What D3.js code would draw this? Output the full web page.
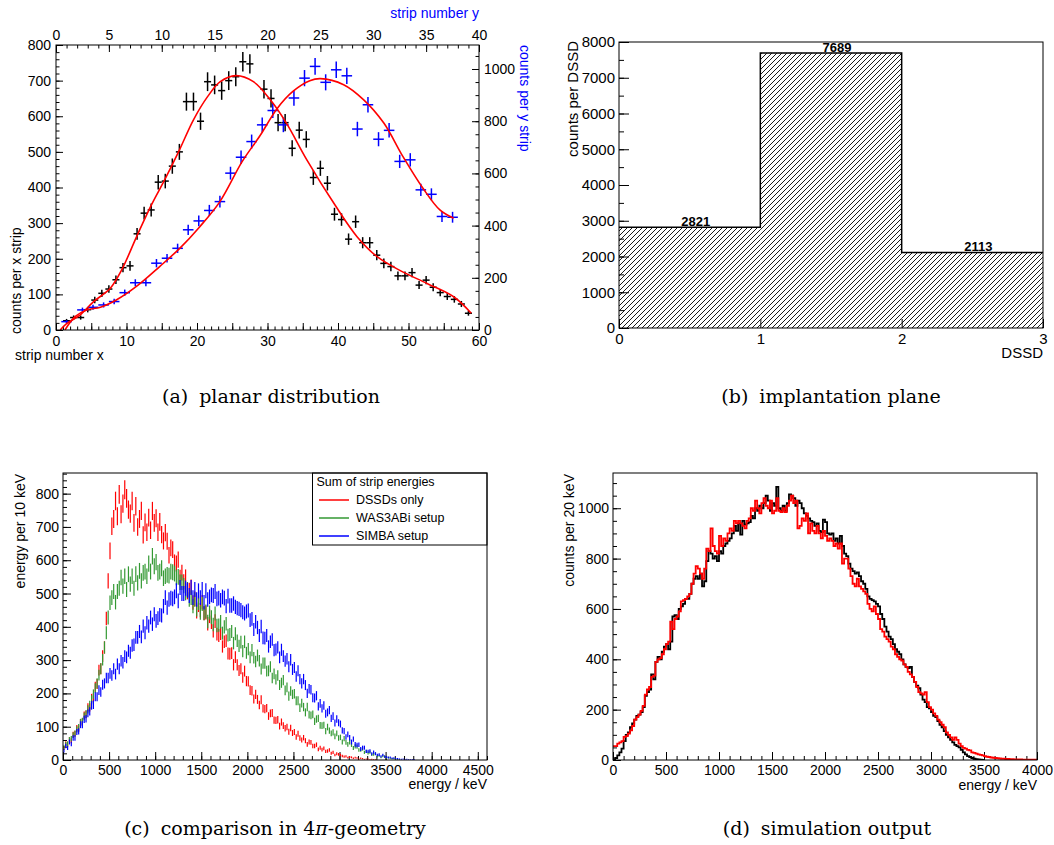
<!DOCTYPE html>
<html lang="en">
<head>
<meta charset="utf-8">
<title>DSSD simulation figures</title>
<script src="https://cdn.jsdelivr.net/npm/d3@7"></script>
<style>
  body { margin: 0; background: #fff; }
  .cap { font-family: "DejaVu Serif", serif; font-size: 19px; }
</style>
</head>
<body>
<svg id="fig" width="1054" height="845"></svg>
<script>
// ---------- (a) planar distribution ----------
var xStrips = d3.range(1.5, 59, 1);            // x strip centres 1.5 .. 58.5
var xCounts = [26,35,35,57,84,103,115,141,175,180,270,328,337,415,418,460,500,641,641,586,
               697,688,672,700,711,753,747,null,676,650,582,582,510,561,535,428,454,412,325,310,
               255,304,245,245,210,187,178,152,152,161,126,140,120,105,94,86,73,47];
var yStrips = [1.0].concat(d3.range(2.5, 38, 1)); // y strip centres
var yCounts = [32,77,87,96,109,143,181,181,256,275,313,384,418,458,492,601,662,722,786,841,
               786,889,965,1010,949,997,974,770,863,731,765,646,652,537,520,435,432];
// fit curves (strip, counts)
var xFit = [[0.6,0],[1.5,18],[3.4,42],[5.3,79],[7.7,117],[9.3,168],[11.5,265],[13.5,350],[15.5,425],
            [17.5,505],[19.5,590],[21.5,655],[23.3,697],[25.5,714],[28,697],[30.4,646],[32.7,580],
            [35.6,477],[39.6,350],[42.7,262],[45.6,205],[48.9,166],[52.7,130],[56.5,92],[58.9,47]];
var yFit = [[0.85,0],[1.8,51],[2.9,77],[4.2,87],[5.7,115],[7.7,170],[9.8,243],[11.7,313],[13.6,396],
            [15.5,492],[17.6,645],[19.3,745],[20.9,848],[22.4,914],[24,955],[25,963],[27.2,940],
            [29.1,882],[31,793],[32.8,665],[34.7,543],[36.3,460],[37.6,428]];
var aBottomLabels = [0,10,20,30,40,50,60];
var aTopLabels = [0,5,10,15,20,25,30,35,40];
var aLeftLabels = [0,100,200,300,400,500,600,700,800];
var aRightLabels = [0,200,400,600,800,1000];

// ---------- (b) implantation plane ----------
var dssdBins = [0, 1, 2];
var dssdCounts = [2821, 7689, 2113];
var bBottomLabels = [0,1,2,3];
var bLeftLabels = [0,1000,2000,3000,4000,5000,6000,7000,8000];

// ---------- (c) comparison in 4pi geometry (energy per 10 keV, sampled every 20 keV from 10 keV) ----------
var cNames = ["DSSDs only", "WAS3ABi setup", "SIMBA setup"];
var cColors = ["#ff0000", "#339933", "#0000ff"];
var cDssd = [36,49,46,61,58,76,79,95,94,112,114,134,137,158,158,185,188,220,228,270,274,312,338,425,538,
  628,702,724,778,732,798,738,770,812,786,752,740,778,712,762,700,724,748,676,714,684,728,690,748,712,
  726,684,715,677,658,683,657,615,637,632,593,590,602,548,563,535,549,505,510,519,473,484,446,466,450,
  474,441,443,409,432,414,388,417,378,374,380,341,355,358,320,319,321,286,309,286,269,274,248,267,237,
  236,210,208,183,197,182,165,181,155,153,156,132,140,141,120,119,121,102,114,103,95,99,85,96,81,
  84,69,79,66,60,67,58,47,54,53,42,42,46,32,37,31,35,26,27,30,20,23,15,19,17,
  15,12,10,11,7,9,8,5,7,6,3,5,4,2,3,3,1,2,1,1];
var cWas = [38,47,49,61,64,75,80,92,98,113,116,131,138,152,165,181,198,216,230,255,274,301,338,382,428,
  472,488,506,474,506,516,548,522,552,512,558,528,552,516,558,532,568,538,562,566,552,590,566,612,582,
  594,562,566,576,546,552,556,554,566,564,560,548,550,534,534,524,502,512,482,488,462,482,452,472,442,
  469,441,446,416,443,429,407,440,404,405,415,381,400,409,375,377,386,351,379,358,343,354,327,355,322,
  333,308,330,307,296,314,298,273,291,291,267,268,280,246,259,242,254,225,232,240,209,218,192,207,197,
  199,178,178,157,171,159,143,159,136,134,137,116,123,125,104,103,105,87,99,88,80,83,71,80,66,
  68,54,64,53,47,54,46,36,41,40,30,30,34,23,26,21,24,16,17,19,11,13,8,12,10,
  7,8,5,4,4,2,2,1];
var cSimba = [28,42,36,54,48,66,66,84,86,106,106,122,124,140,146,164,166,190,190,210,204,226,230,246,246,
  260,254,274,258,288,274,298,292,312,308,328,322,344,346,368,368,386,370,402,382,412,402,428,408,438,
  418,426,436,434,462,488,458,482,486,484,490,508,478,518,500,500,516,510,494,518,488,512,482,508,488,
  512,474,508,482,490,496,494,506,484,486,480,490,486,462,492,464,464,470,460,456,454,450,444,440,446,
  449,420,424,392,415,398,374,401,367,366,374,341,355,362,330,332,338,308,331,312,297,304,280,301,272,
  278,251,268,243,230,243,225,200,214,211,187,186,193,161,170,155,164,139,143,150,125,132,111,123,112,
  108,89,87,69,77,67,54,63,47,45,46,33,37,37,26,26,27,19,24,19,15,16,11,15,10,
  9,7,8,5,6,4,4,3,2,3,1,2,1,1,1,1];
var cBottomLabels = [0,500,1000,1500,2000,2500,3000,3500,4000,4500];
var cLeftLabels = [0,100,200,300,400,500,600,700,800];

// ---------- (d) simulation output (counts per 20 keV bin, bins from 0) ----------
var dBlack = [2,8,18,30,45,75,100,110,130,145,160,175,180,190,210,255,270,280,340,320,390,410,400,430,450,
  460,440,470,570,575,560,600,610,620,640,640,660,700,720,730,720,740,690,710,790,830,820,800,810,790,
  830,820,850,860,870,880,900,930,910,940,895,950,935,940,945,970,960,1000,990,1010,1000,1020,1050,1030,990,
  1020,1010,1085,1000,990,1010,990,1020,1055,1050,1040,1010,1030,1020,1000,980,970,960,950,945,930,940,910,905,955,
  945,900,895,900,870,880,860,890,850,820,810,780,760,750,740,745,730,710,700,680,650,640,635,630,620,
  610,580,560,530,510,490,480,460,440,430,420,400,380,370,365,370,330,310,295,285,260,240,230,210,205,
  190,175,170,155,140,130,115,100,90,80,70,60,55,50,40,30,22,15,12,8,5,3,2,1,0];
var dRed = [55,55,65,70,75,92,95,105,118,135,160,170,180,195,215,260,280,290,330,335,390,400,405,420,440,
  460,470,550,520,560,570,590,630,635,640,650,660,700,740,770,760,740,720,760,840,830,920,850,830,820,
  890,850,880,870,900,920,910,950,940,950,940,930,920,950,960,1000,990,1030,1000,980,1020,1040,1010,1000,1030,
  980,990,1040,990,985,1000,985,1010,1030,1050,1020,1030,920,930,960,950,980,900,940,910,900,930,900,880,910,
  890,870,880,870,850,860,840,860,780,800,800,760,730,700,690,720,690,680,670,660,620,600,590,610,580,
  560,520,510,490,480,470,450,440,420,410,400,395,380,370,350,340,330,310,290,270,265,260,270,230,210,
  200,185,175,160,150,140,130,110,100,90,80,90,80,65,55,48,45,40,38,30,28,25,22,20,18,
  15,13,12,10,9,8,7,6,5,5,4,4,3,3,2,2,2,2,1,1,1,1,1,1,1];
var dBottomLabels = [0,500,1000,1500,2000,2500,3000,3500,4000];
var dLeftLabels = [0,200,400,600,800,1000];

var FONT = "'Liberation Sans', Arial, Helvetica, sans-serif";
var svg = d3.select("#fig");
var defs = svg.append("defs");

// ROOT style axis: ticks point into the frame, labels outside
function rootAxis(g, side, scale, labels, major, minor, lenMaj, lenMin, pad, size) {
  var make = {bottom: d3.axisBottom, top: d3.axisTop, left: d3.axisLeft, right: d3.axisRight}[side];
  if (minor) {
    g.append("g").call(make(scale).tickValues(minor).tickSize(-lenMin).tickFormat(""));
  }
  var ax = g.append("g").call(make(scale).tickValues(major).tickSize(-lenMaj).tickPadding(pad)
      .tickFormat(function(d) { return labels.indexOf(d) >= 0 ? d : ""; }));
  g.selectAll(".domain").remove();
  g.selectAll(".tick line").attr("stroke", "#000").attr("stroke-width", 1);
  ax.selectAll("text").attr("font-size", size).attr("font-family", FONT).attr("fill", "#000");
}

function frame(g, L, T, R, B) {
  g.append("rect").attr("x", L).attr("y", T).attr("width", R - L).attr("height", B - T)
    .attr("fill", "none").attr("stroke", "#000").attr("stroke-width", 1);
}

function clip(id, L, T, R, B) {
  defs.append("clipPath").attr("id", id).append("rect")
    .attr("x", L).attr("y", T).attr("width", R - L).attr("height", B - T);
}

function title(g, txt, x, y, anchor, rot, color, size) {
  g.append("text").attr("transform", "translate(" + x + "," + y + ")" + (rot ? " rotate(" + rot + ")" : ""))
    .attr("text-anchor", anchor).attr("font-family", FONT).attr("font-size", size || 14)
    .attr("fill", color || "#000").text(txt);
}

// ================= panel (a) =================
(function() {
  var L = 56, R = 479, T = 45, B = 330;
  var g = svg.append("g");
  var x = d3.scaleLinear().domain([0, 60]).range([L, R]);
  var y = d3.scaleLinear().domain([0, 800]).range([B, T]);
  var xt = d3.scaleLinear().domain([0, 40]).range([L, R]);
  var yr = d3.scaleLinear().domain([0, 1092]).range([B, T]);
  clip("clipA", L, T, R, B);

  rootAxis(g.append("g").attr("transform", "translate(0," + B + ")"), "bottom", x, aBottomLabels,
    d3.range(0, 61, 5), d3.range(0, 61, 1), 7, 3.5, 6, 14);
  rootAxis(g.append("g").attr("transform", "translate(0," + T + ")"), "top", xt, aTopLabels,
    d3.range(0, 41, 5), d3.range(0, 41, 1), 7, 3.5, 5, 14);
  rootAxis(g.append("g").attr("transform", "translate(" + L + ",0)"), "left", y, aLeftLabels,
    aLeftLabels, d3.range(0, 801, 20), 7, 3.5, 5, 14);
  rootAxis(g.append("g").attr("transform", "translate(" + R + ",0)"), "right", yr, aRightLabels,
    aRightLabels, d3.range(0, 1091, 50), 7, 3.5, 5, 14);

  var plot = g.append("g").attr("clip-path", "url(#clipA)");
  var xPts = xStrips.map(function(s, i) { return {s: s, c: xCounts[i]}; }).filter(function(d) { return d.c != null; });
  var yPts = yStrips.map(function(s, i) { return {s: s, c: yCounts[i]}; });

  function crosses(sel, pts, sx, sy, color) {
    var gg = sel.append("g").attr("stroke", color).attr("stroke-width", 1.5);
    gg.selectAll("line.v").data(pts).enter().append("line").attr("class", "v")
      .attr("x1", function(d) { return sx(d.s); }).attr("x2", function(d) { return sx(d.s); })
      .attr("y1", function(d) { return sy(d.c + Math.sqrt(d.c)); })
      .attr("y2", function(d) { return sy(d.c - Math.sqrt(d.c)); });
    gg.selectAll("line.h").data(pts).enter().append("line").attr("class", "h")
      .attr("x1", function(d) { return sx(d.s - 0.5); }).attr("x2", function(d) { return sx(d.s + 0.5); })
      .attr("y1", function(d) { return sy(d.c); }).attr("y2", function(d) { return sy(d.c); });
  }
  crosses(plot, xPts, x, y, "#000");
  crosses(plot, yPts, xt, yr, "#0000ff");

  var fitX = d3.line().x(function(d) { return x(d[0]); }).y(function(d) { return y(d[1]); })
    .curve(d3.curveCatmullRom.alpha(0.5));
  var fitY = d3.line().x(function(d) { return xt(d[0]); }).y(function(d) { return yr(d[1]); })
    .curve(d3.curveCatmullRom.alpha(0.5));
  plot.append("path").attr("d", fitX(xFit)).attr("fill", "none").attr("stroke", "#ff0000").attr("stroke-width", 1.6);
  plot.append("path").attr("d", fitY(yFit)).attr("fill", "none").attr("stroke", "#ff0000").attr("stroke-width", 1.6);

  frame(g, L, T, R, B);
  title(g, "strip number x", 15, 360, "start");
  title(g, "strip number y", R, 18, "end", 0, "#0000ff");
  title(g, "counts per x strip", 21, 334, "start", -90);
  title(g, "counts per y strip", 519.5, T, "start", 90, "#0000ff");
})();

// ================= panel (b) =================
(function() {
  var L = 619, R = 1043, T = 42, B = 328;
  var g = svg.append("g");
  var x = d3.scaleLinear().domain([0, 3]).range([L, R]);
  var y = d3.scaleLinear().domain([0, 8000]).range([B, T]);

  var pat = defs.append("pattern").attr("id", "hatch").attr("patternUnits", "userSpaceOnUse")
    .attr("width", 5).attr("height", 5);
  pat.append("path").attr("d", "M0,5 L5,0 M-1,1 L1,-1 M4,6 L6,4")
    .attr("stroke", "#000").attr("stroke-width", 0.9);

  g.selectAll("rect.bar").data(dssdBins).enter().append("rect").attr("class", "bar")
    .attr("x", function(d) { return x(d); })
    .attr("width", function(d) { return x(d + 1) - x(d); })
    .attr("y", function(d, i) { return y(dssdCounts[i]); })
    .attr("height", function(d, i) { return B - y(dssdCounts[i]); })
    .attr("fill", "url(#hatch)");

  var outline = dssdBins.map(function(b, i) { return [b, dssdCounts[i]]; });
  outline.push([3, dssdCounts[dssdCounts.length - 1]]);
  g.append("path").attr("d", d3.line().x(function(d) { return x(d[0]); }).y(function(d) { return y(d[1]); })
      .curve(d3.curveStepAfter)(outline))
    .attr("fill", "none").attr("stroke", "#000").attr("stroke-width", 1.5);

  g.selectAll("text.val").data(dssdBins).enter().append("text").attr("class", "val")
    .attr("x", function(d) { return x(d + 0.5) + 6; })
    .attr("y", function(d, i) { return y(dssdCounts[i]) - 1; })
    .attr("text-anchor", "middle").attr("font-family", FONT).attr("font-weight", "bold")
    .attr("font-size", 13).text(function(d, i) { return dssdCounts[i]; });

  rootAxis(g.append("g").attr("transform", "translate(0," + B + ")"), "bottom", x, bBottomLabels,
    bBottomLabels, null, 9, 0, 5, 15);
  rootAxis(g.append("g").attr("transform", "translate(" + L + ",0)"), "left", y, bLeftLabels,
    bLeftLabels, d3.range(0, 8001, 500), 10, 5, 4, 15);

  frame(g, L, T, R, B);
  title(g, "DSSD", R, 358, "end", 0, "#000", 15);
  title(g, "counts per DSSD", 578, T - 1, "end", -90, "#000", 15);
})();

// ================= panel (c) =================
(function() {
  var L = 63, R = 487, T = 473, B = 760;
  var g = svg.append("g");
  var x = d3.scaleLinear().domain([0, 4600]).range([L, R]);
  var y = d3.scaleLinear().domain([0, 862]).range([B, T]);
  clip("clipC", L, T, R, B);

  rootAxis(g.append("g").attr("transform", "translate(0," + B + ")"), "bottom", x, cBottomLabels,
    cBottomLabels, d3.range(0, 4601, 100), 8, 4, 5, 14);
  rootAxis(g.append("g").attr("transform", "translate(" + L + ",0)"), "left", y, cLeftLabels,
    cLeftLabels, d3.range(0, 861, 20), 8, 4, 4, 14);

  var plot = g.append("g").attr("clip-path", "url(#clipC)");
  [cDssd, cWas, cSimba].forEach(function(series, k) {
    var pts = series.map(function(v, i) { return {e: 10 + 20 * i, v: v}; }).filter(function(d) { return d.v > 0; });
    plot.append("g").attr("stroke", cColors[k]).attr("stroke-width", 1.2)
      .selectAll("line").data(pts).enter().append("line")
      .attr("x1", function(d) { return x(d.e); }).attr("x2", function(d) { return x(d.e); })
      .attr("y1", function(d) { return y(d.v + Math.sqrt(d.v)); })
      .attr("y2", function(d) { return y(Math.max(0, d.v - Math.sqrt(d.v))); });
  });

  // legend
  var lg = g.append("g");
  lg.append("rect").attr("x", 312.5).attr("y", T).attr("width", R - 312.5).attr("height", 72)
    .attr("fill", "#fff").attr("stroke", "#000").attr("stroke-width", 1);
  lg.append("text").attr("x", 316.5).attr("y", 485.5).attr("font-family", FONT).attr("font-size", 12.5)
    .text("Sum of strip energies");
  cNames.forEach(function(n, k) {
    var yy = 500 + k * 18;
    lg.append("line").attr("x1", 319).attr("x2", 349).attr("y1", yy).attr("y2", yy)
      .attr("stroke", cColors[k]).attr("stroke-width", 1.5);
    lg.append("text").attr("x", 356).attr("y", yy + 4).attr("font-family", FONT).attr("font-size", 12.5).text(n);
  });

  frame(g, L, T, R, B);
  title(g, "energy / keV", R, 789, "end");
  title(g, "energy per 10 keV", 24.5, T + 1, "end", -90);
})();

// ================= panel (d) =================
(function() {
  var L = 613, R = 1037, T = 473, B = 760;
  var g = svg.append("g");
  var x = d3.scaleLinear().domain([0, 4000]).range([L, R]);
  var y = d3.scaleLinear().domain([0, 1140]).range([B, T]);
  clip("clipD", L, T, R, B);

  rootAxis(g.append("g").attr("transform", "translate(0," + B + ")"), "bottom", x, dBottomLabels,
    dBottomLabels, d3.range(0, 4001, 100), 8, 4, 5, 14);
  rootAxis(g.append("g").attr("transform", "translate(" + L + ",0)"), "left", y, dLeftLabels,
    dLeftLabels, d3.range(0, 1101, 50), 8, 4, 4, 14);

  var plot = g.append("g").attr("clip-path", "url(#clipD)");
  var step = d3.line().x(function(d) { return x(d[0]); }).y(function(d) { return y(d[1]); }).curve(d3.curveStepAfter);
  [[dBlack, "#000"], [dRed, "#ff0000"]].forEach(function(h) {
    var pts = h[0].map(function(v, i) { return [20 * i, v]; });
    pts.push([20 * h[0].length, h[0][h[0].length - 1]]);
    plot.append("path").attr("d", step(pts)).attr("fill", "none")
      .attr("stroke", h[1]).attr("stroke-width", 1.8);
  });

  frame(g, L, T, R, B);
  title(g, "energy / keV", R, 790, "end");
  title(g, "counts per 20 keV", 574, T + 1, "end", -90);
})();

// ================= captions =================
var captions = [
  {x: 271, y: 403, tag: "(a)", parts: [["planar distribution", false]]},
  {x: 831, y: 403, tag: "(b)", parts: [["implantation plane", false]]},
  {x: 275, y: 835, tag: "(c)", parts: [["comparison in 4", false], ["\u03c0", true], ["-geometry", false]]},
  {x: 827, y: 835, tag: "(d)", parts: [["simulation output", false]]}
];
captions.forEach(function(c) {
  var t = svg.append("text").attr("class", "cap").attr("x", c.x).attr("y", c.y).attr("text-anchor", "middle");
  t.append("tspan").text(c.tag);
  c.parts.forEach(function(p, i) {
    var s = t.append("tspan").text(p[0]);
    if (i === 0) s.attr("dx", 11);
    if (p[1]) s.attr("font-style", "italic");
  });
});
</script>
</body>
</html>
